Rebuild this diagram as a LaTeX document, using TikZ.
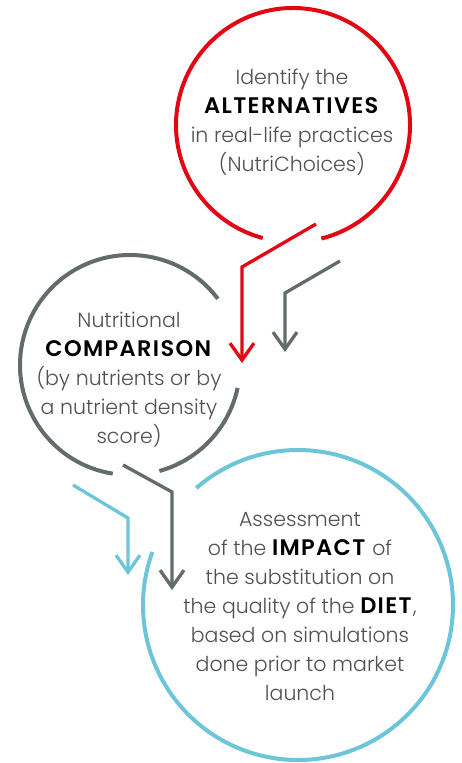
\documentclass[tikz,border=0pt]{standalone}
\usepackage{fontspec}
\setmainfont{Poppins}[UprightFont=* Light, BoldFont=* SemiBold, BoldFeatures={LetterSpace=6}]
\usetikzlibrary{arrows.meta}
\definecolor{nred}{HTML}{E30613}
\definecolor{ngray}{HTML}{636B6B}
\definecolor{nblue}{HTML}{6CC5D8}
\definecolor{ntext}{HTML}{505050}
\newcommand\keyword[1]{{\fontsize{22.5}{29}\selectfont\textcolor{black}{\textbf{#1}}}}
\begin{document}
\begin{tikzpicture}[x=1pt,y=-1pt,
  ring/.style={line width=4pt},
  flow/.style={line width=3.3pt,-{Straight Barb[length=17pt,width=24pt]}},
  label/.style={align=center,text=ntext,font=\fontsize{20.5}{29}\selectfont}]
\useasboundingbox (0,0) rectangle (461,763);

\coordinate (calt) at (293,125);
\coordinate (ccomp) at (130,365);
\coordinate (cimp) at (298,605);

\draw[ring,nred] (calt) ++(105:117) arc[start angle=105,end angle=436,radius=117];
\draw[ring,ngray] (ccomp) ++(12:110) arc[start angle=12,end angle=74.5,radius=110];
\draw[ring,ngray] (ccomp) ++(99:110) arc[start angle=99,end angle=323,radius=110];
\draw[ring,nblue] (cimp) ++(229:155) arc[start angle=229,end angle=560,radius=155];

\node[label] (alt) at (292,122) {Identify the\\\keyword{ALTERNATIVES}\\in real-life practices\\(NutriChoices)};
\node[label] (comp) at (129,380) {Nutritional\\\keyword{COMPARISON}\\(by nutrients or by\\a nutrient density\\score)};
\node[label] (impact) at (300,607) {Assessment\\of the \keyword{IMPACT} of\\the substitution on\\the quality of the \keyword{DIET},\\based on simulations\\done prior to market\\launch};

\coordinate (r0) at (316,224);
\coordinate (r1) at (242,267);
\coordinate (r2) at (242,363);
\coordinate (g0) at (340,261);
\coordinate (g1) at (285,293);
\coordinate (g2) at (285,352);
\coordinate (h0) at (123,465);
\coordinate (h1) at (172,492);
\coordinate (h2) at (172,590);
\coordinate (b0) at (73,485);
\coordinate (b1) at (128,518);
\coordinate (b2) at (128,575);

\draw[flow,nred] (r0) -- (r1) -- (r2);
\draw[flow,ngray] (g0) -- (g1) -- (g2);
\draw[flow,ngray] (h0) -- (h1) -- (h2);
\draw[flow,nblue] (b0) -- (b1) -- (b2);
\end{tikzpicture}
\end{document}
